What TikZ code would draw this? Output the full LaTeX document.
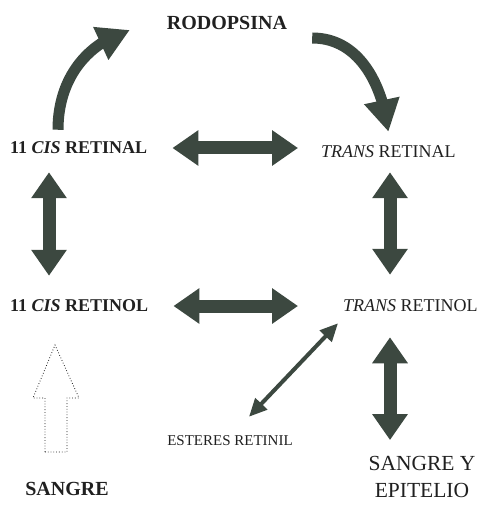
\documentclass[tikz,border=0pt]{standalone}
\usepackage{fontspec}
\setmainfont{Liberation Serif}
\usetikzlibrary{arrows.meta,bending}
\definecolor{arrowgrey}{RGB}{60,72,64}
\definecolor{inkgrey}{RGB}{32,32,32}

\begin{document}
\begin{tikzpicture}[x=1pt, y=-1pt, every node/.style={inner sep=0pt, text=inkgrey},
    fat/.style={draw=arrowgrey, line width=13pt, {Triangle[length=26pt,width=34pt]}-{Triangle[length=26pt,width=34pt]}},
    bendy/.style={draw=arrowgrey, line width=11pt, -{Triangle[length=32pt,width=34pt]}},
    slim/.style={draw=arrowgrey, line width=4pt, {Triangle[length=18pt,width=16pt]}-{Triangle[length=18pt,width=16pt]}},
    bigbold/.style={font=\bfseries\fontsize{18}{22}\selectfont},
    bignorm/.style={font=\fontsize{18}{22}\selectfont}]
  \useasboundingbox (0,0) rectangle (479,505);

  \node (rod) at (227,23) [font=\bfseries\fontsize{20}{24}\selectfont] {RODOPSINA};
  \node (cisal) at (10,148) [anchor=west, bigbold] {11 \textit{CIS} RETINAL};
  \node (transal) at (321,152) [anchor=west, bignorm] {\textit{TRANS} RETINAL};
  \node (cisol) at (10,306) [anchor=west, bigbold] {11 \textit{CIS} RETINOL};
  \node (transol) at (343,306) [anchor=west, bignorm] {\textit{TRANS} RETINOL};
  \node (ester) at (230,441) [font=\fontsize{15}{18}\selectfont] {ESTERES RETINIL};
  \node (sangre) at (67,489) [font=\bfseries\fontsize{20}{24}\selectfont] {SANGRE};
  \node (sangep) at (422,477) [align=center, font=\fontsize{21.5}{27}\selectfont] {SANGRE Y\\EPITELIO};

  % cycle of the visual pigment
  \draw[bendy] ([xshift=48pt,yshift=12pt]cisal.north west) to[out=90,in=197] ([xshift=-37pt,yshift=-7pt]rod.west);
  \draw[bendy] ([xshift=25pt,yshift=-15pt]rod.east) to[out=0,in=97] ([yshift=14pt]transal.north);

  \draw[fat, shorten <=25pt, shorten >=23pt] (cisal.east) -- (cisal.east -| transal.west);
  \draw[fat, shorten <=25pt, shorten >=45pt] (cisol.east) -- (cisol.east -| transol.west);
  \draw[fat, shorten <=18pt, shorten >=24pt] ([xshift=39pt]cisal.south west) -- ([xshift=39pt]cisol.north west);
  \draw[fat, shorten <=14pt, shorten >=25pt] ([xshift=69pt]transal.south west) -- ([xshift=47pt]transol.north west);
  \draw[fat, shorten <=25pt, shorten >=16pt] ([xshift=47pt]transol.south west) -- ([xshift=47pt]transol.south west |- sangep.north);
  \draw[slim] ([xshift=-5pt,yshift=-11pt]transol.south west) -- ([xshift=19pt,yshift=19pt]ester.north);

  % supply from the blood
  \draw[inkgrey, dotted, line width=0.8pt] (45,452) -- (45,398) -- (33,398) -- (55,345) -- (79,398) -- (67,398) -- (67,452) -- cycle;
\end{tikzpicture}
\end{document}
